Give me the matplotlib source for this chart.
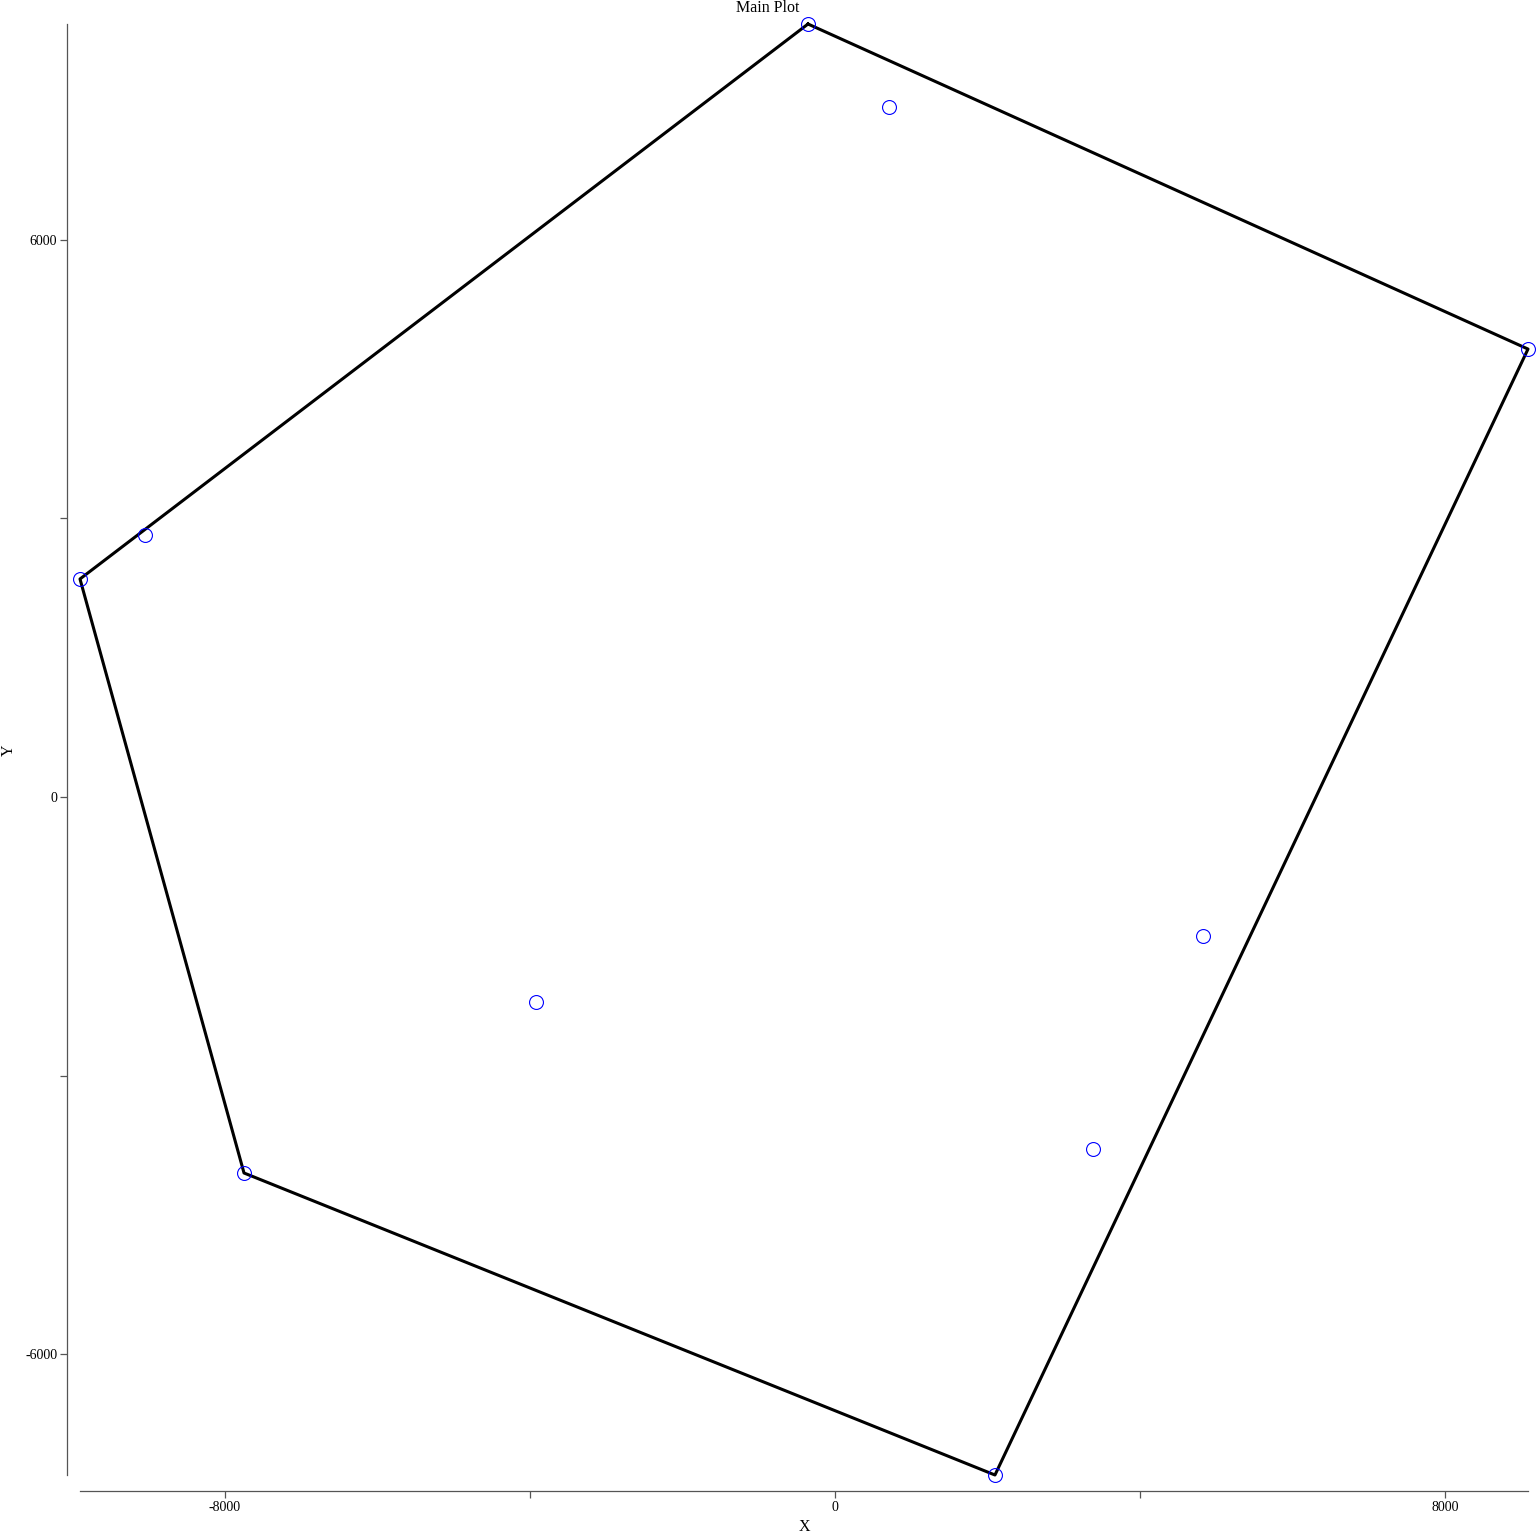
import matplotlib
matplotlib.use('Agg')
import matplotlib.pyplot as plt
import numpy as np

plt.rcParams['font.family'] = ['Liberation Serif', 'DejaVu Serif']

# point coordinates
xs = [-354, 708, 9089, -9049, -9902, 4826, -3921, 3384, -7751, 2098]
ys = [8321, 7427, 4822, 2820, 2347, -1496, -2207, -3789, -4047, -7298]
# indices of the hull vertices, in drawing order
hull = [0, 2, 9, 8, 4, 0]

xticks = [-8000, 0, 8000]
xminor = [-4000, 4000]
yticks = [-6000, 0, 6000]
yminor = [-3000, 3000]

W = 1536
fig = plt.figure(figsize=(15.36, 15.36), dpi=100)
ax = fig.add_axes([80 / W, 1 - 1475 / W, (1528 - 80) / W, (1475 - 24) / W])

hx = [xs[i] for i in hull]
hy = [ys[i] for i in hull]
ax.plot(hx, hy, color='black', lw=2.2, clip_on=False, zorder=2)
ax.plot(xs, ys, 'o', mfc='none', mec='blue', ms=10, mew=0.8, clip_on=False, zorder=3)

ax.set_xlim(min(xs), max(xs))
ax.set_ylim(min(ys), max(ys))

for s in ['top', 'right']:
    ax.spines[s].set_visible(False)
ax.spines['left'].set_position(('outward', 9.4))
ax.spines['bottom'].set_position(('outward', 11.5))
for s in ['left', 'bottom']:
    ax.spines[s].set_color('#555555')
    ax.spines[s].set_linewidth(0.9)

ax.set_xticks(xticks)
ax.set_xticks(xminor, minor=True)
ax.set_yticks(yticks)
ax.set_yticks(yminor, minor=True)
ax.set_xticklabels([str(v) for v in xticks])
ax.set_yticklabels([str(v) for v in yticks])
ax.tick_params(which='both', length=5, width=0.9, color='#555555', labelsize=10, pad=2)

ax.set_xlabel('X', fontsize=11.5, labelpad=4)
fig.text(9 / W, 1 - 750 / W, 'Y', rotation=90, ha='center', va='center', fontsize=11.5)
fig.text(0.5, 1 - 8 / W, 'Main Plot', ha='center', va='center', fontsize=11.5)

fig.savefig('out.png', dpi=100)
